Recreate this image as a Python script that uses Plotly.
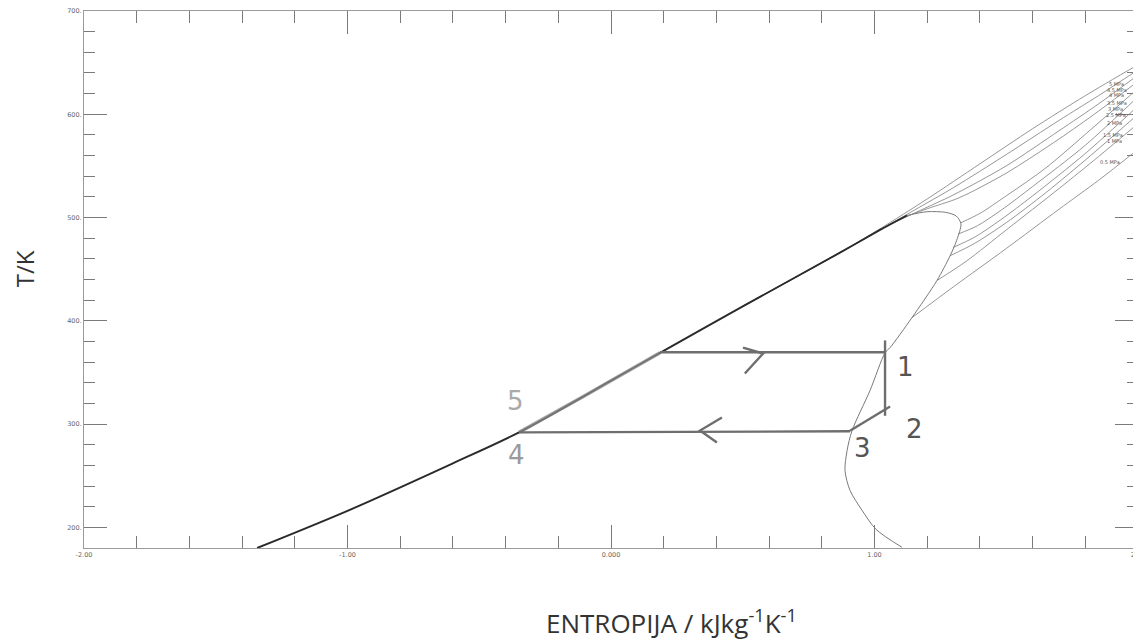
import plotly.graph_objects as go

# ---------------- data ----------------
# saturated liquid line (s in kJ/kgK, T in K)
liq_s = [-1.343, -1.0, -0.6, -0.349, 0.0, 0.186, 0.5, 0.869, 1.021, 1.123]
liq_T = [180.0, 216.0, 262.0, 292.0, 342.0, 369.0, 414.0, 466.0, 488.0, 502.0]
# saturated vapour line (from the critical region down the right side)
vap_s = [1.123, 1.199, 1.270, 1.310, 1.328, 1.312, 1.287, 1.237, 1.142, 1.059, 1.040, 0.983, 0.915, 0.896, 0.888, 0.907, 0.953, 1.006, 1.104]
vap_T = [502.0, 505.6, 505.0, 501.5, 494.0, 478.0, 463.0, 439.0, 403.0, 374.0, 369.0, 332.5, 293.8, 274.5, 255.0, 235.8, 216.4, 198.0, 180.7]

# isobars (highest pressure first)
isobar_s = [
    [0.5, 0.869, 1.02, 1.2, 1.4, 1.6, 1.8, 2.0],
    [0.5, 0.869, 1.02, 1.15, 1.3, 1.5, 1.7, 1.85, 2.0],
    [0.5, 0.869, 1.05, 1.17, 1.3, 1.5, 1.7, 1.85, 2.0],
    [0.5, 0.869, 1.08, 1.2, 1.32, 1.5, 1.7, 1.85, 2.0],
    [1.328, 1.40, 1.50, 1.65, 1.82, 2.0],
    [1.317, 1.39, 1.48, 1.60, 1.80, 2.0],
    [1.298, 1.38, 1.48, 1.60, 1.80, 2.0],
    [1.287, 1.38, 1.50, 1.65, 1.82, 2.0],
    [1.237, 1.35, 1.50, 1.70, 1.85, 2.0],
    [1.142, 1.30, 1.50, 1.70, 1.85, 2.0],
]
isobar_T = [
    [414.0, 466.0, 489.0, 518.0, 552.0, 586.0, 618.0, 648.0],
    [414.0, 466.0, 488.0, 507.0, 529.0, 561.0, 594.0, 618.0, 643.0],
    [414.0, 466.0, 492.0, 506.5, 522.0, 550.0, 584.0, 610.0, 638.0],
    [414.0, 466.0, 496.5, 508.5, 519.0, 543.0, 576.0, 603.0, 632.0],
    [495.0, 504.0, 521.0, 548.0, 585.0, 625.0],
    [484.0, 492.0, 507.0, 530.0, 570.0, 617.0],
    [471.0, 481.0, 498.0, 521.0, 562.0, 608.0],
    [463.0, 475.0, 495.0, 524.0, 560.0, 600.0],
    [439.0, 458.0, 488.0, 528.0, 559.0, 591.0],
    [403.0, 433.0, 470.0, 508.0, 536.0, 566.0],
]
isobar_labels = ["5 MPa", "4.5 MPa", "4 MPa", "3.5 MPa", "3 MPa",
                 "2.5 MPa", "2 MPa", "1.5 MPa", "1 MPa", "0.5 MPa"]
label_s = [1.92, 1.92, 1.92, 1.92, 1.915, 1.915, 1.91, 1.905, 1.91, 1.895]
label_T = [629.7, 623.3, 618.5, 611.3, 605.5, 599.1, 592.0, 580.0, 574.3, 554.0]

# hand-drawn cycle
pump_s = [-0.349, -0.1, 0.0, 0.186]          # 4 -> 5 along liquid line
pump_T = [292.0, 327.5, 342.0, 369.0]
evap_s = [0.186, 1.040]                      # 5 -> 1
evap_T = [369.5, 369.5]
exp_s = [1.040, 1.040]                       # 1 -> 2
exp_T = [381.0, 308.0]
desup_s = [1.059, 0.907]                     # 2 -> 3
desup_T = [317.0, 293.5]
cond_s = [0.907, -0.349]                     # 3 -> 4
cond_T = [293.0, 292.0]
arrow1_s = [0.501, 0.577, 0.508]
arrow1_T = [374.0, 368.3, 349.0]
arrow2_s = [0.421, 0.338, 0.402]
arrow2_T = [306.4, 293.8, 282.2]
point_names = ["1", "2", "3", "4", "5"]
point_s = [1.116, 1.150, 0.953, -0.357, -0.364]
point_T = [355.0, 295.0, 277.0, 269.6, 322.8]
point_colors = ["#555555", "#555555", "#555555", "#9a9a9a", "#aaaaaa"]

x_ticks = [-2, -1, 0, 1, 2]
x_ticktext = ["-2.00", "-1.00", "0.000", "1.00", "2.00"]
y_ticks = [200, 300, 400, 500, 600, 700]
y_ticktext = ["200.", "300.", "400.", "500.", "600.", "700."]

# ---------------- figure ----------------
fig = go.Figure()

for s, T in zip(isobar_s, isobar_T):
    fig.add_trace(go.Scatter(x=s, y=T, mode="lines",
                             line=dict(color="#8a8a8a", width=0.9, shape="spline", smoothing=0.8),
                             hoverinfo="skip"))

fig.add_trace(go.Scatter(x=vap_s, y=vap_T, mode="lines",
                         line=dict(color="#7a7a7a", width=1.0, shape="spline", smoothing=0.8),
                         hoverinfo="skip"))
fig.add_trace(go.Scatter(x=liq_s, y=liq_T, mode="lines",
                         line=dict(color="#2a2a2a", width=1.9, shape="spline", smoothing=0.8),
                         hoverinfo="skip"))

# cycle strokes
fig.add_trace(go.Scatter(x=pump_s, y=pump_T, mode="lines",
                         line=dict(color="rgba(140,140,140,0.75)", width=3.5, shape="spline"),
                         hoverinfo="skip"))
for s, T in [(evap_s, evap_T), (exp_s, exp_T), (desup_s, desup_T), (cond_s, cond_T),
             (arrow1_s, arrow1_T), (arrow2_s, arrow2_T)]:
    fig.add_trace(go.Scatter(x=s, y=T, mode="lines",
                             line=dict(color="#6e6e6e", width=2.4),
                             hoverinfo="skip"))

for name, s, T, c in zip(point_names, point_s, point_T, point_colors):
    fig.add_annotation(x=s, y=T, text=name, showarrow=False,
                       font=dict(family="DejaVu Sans", size=26, color=c))

for lab, s, T in zip(isobar_labels, label_s, label_T):
    fig.add_annotation(x=s, y=T, text=lab, showarrow=False,
                       font=dict(family="DejaVu Sans", size=5, color="#555555"))

fig.add_annotation(xref="paper", yref="paper", x=0.557, y=-0.138, xanchor="center", yanchor="middle",
                   text="ENTROPIJA / kJkg<sup>-1</sup>K<sup>-1</sup>", showarrow=False,
                   font=dict(family="Open Sans", size=26, color="#333333"))
fig.add_annotation(xref="paper", yref="paper", x=-0.0565, y=0.52, xanchor="center", yanchor="middle",
                   text="T/K", textangle=-90, showarrow=False,
                   font=dict(family="Open Sans", size=24, color="#333333"))

axis_common = dict(showline=True, linecolor="#9a9a9a", linewidth=1, mirror="ticks",
                   ticks="inside", ticklen=23, tickwidth=1, tickcolor="#7a7a7a",
                   showgrid=False, zeroline=False, ticklabeloverflow="allow", automargin=False,
                   tickfont=dict(family="DejaVu Sans", size=6.5, color="#666666"))

# the page body has an 8px margin, so the figure is 8px smaller than the window
fig.update_layout(
    width=1133, height=635,
    margin=dict(l=76, r=3, t=3, b=95, autoexpand=False),
    plot_bgcolor="white", paper_bgcolor="white",
    showlegend=False,
    xaxis=dict(range=[-2, 2], tickvals=x_ticks, ticktext=x_ticktext,
               minor=dict(ticks="inside", ticklen=12, dtick=0.2, tickcolor="#7a7a7a", tickwidth=1),
               **axis_common),
    yaxis=dict(range=[180, 700], tickvals=y_ticks, ticktext=y_ticktext,
               minor=dict(ticks="inside", ticklen=11, dtick=20, tick0=0, tickcolor="#7a7a7a", tickwidth=1),
               **axis_common),
)

fig.write_html("out.html")
